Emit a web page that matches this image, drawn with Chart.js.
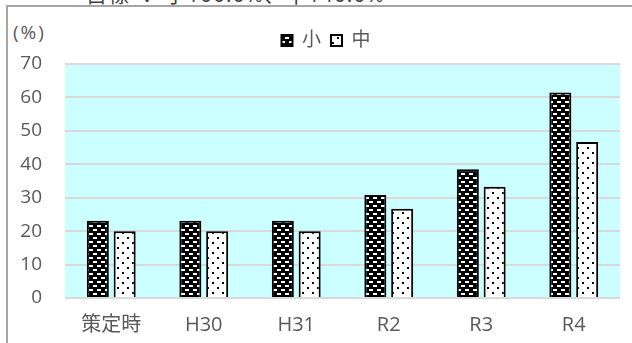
<!DOCTYPE html>
<html>
<head>
<meta charset="utf-8">
<script src="https://cdn.jsdelivr.net/npm/chart.js@4.4.1/dist/chart.umd.min.js"></script>
<style>
  body { margin: 0; background: #fff; width: 632px; height: 343px; overflow: hidden; position: relative; font-family: 'Open Sans', 'Noto Sans CJK JP', sans-serif; }
  #frame { position: absolute; left: 6px; top: 5px; width: 700px; height: 400px; border-left: 2px solid #a6a6a6; border-top: 2px solid #a6a6a6; }
  #goal { position: absolute; left: 86px; top: -16px; font-size: 21px; line-height: 21px; color: #404040; white-space: nowrap; letter-spacing: 1px; }
  #unit { position: absolute; left: 13px; top: 20px; font-size: 19px; line-height: 24px; color: #595959; letter-spacing: 2px; }
  #c { position: absolute; left: 0; top: 0; }
</style>
</head>
<body>
<div id="goal">目標 ： 小100.0%、中140.0%</div>
<div id="frame"></div>
<div id="unit">(%)</div>
<canvas id="c" width="632" height="343"></canvas>
<script>
// data
const categories = ['策定時', 'H30', 'H31', 'R2', 'R3', 'R4'];
const smallRates = [23.1, 23.1, 23.1, 30.8, 38.5, 61.5];
const middleRates = [20.0, 20.0, 20.0, 26.7, 33.3, 46.7];
const seriesNames = ['小', '中'];

// fill patterns like the office chart
function brickPattern() {
  const t = document.createElement('canvas');
  t.width = 8; t.height = 8;
  const g = t.getContext('2d');
  g.fillStyle = '#000'; g.fillRect(0, 0, 8, 8);
  g.fillStyle = '#fff';
  g.fillRect(1, 1, 4, 2);
  g.fillRect(5, 5, 3, 2);
  g.fillRect(0, 5, 1, 2);
  return g.createPattern(t, 'repeat');
}
function dotPattern() {
  const t = document.createElement('canvas');
  t.width = 10; t.height = 10;
  const g = t.getContext('2d');
  g.fillStyle = '#fff'; g.fillRect(0, 0, 10, 10);
  g.fillStyle = '#000';
  g.fillRect(2, 2, 2, 2);
  g.fillRect(7, 7, 2, 2);
  return g.createPattern(t, 'repeat');
}

const plotBg = {
  id: 'plotBg',
  afterLayout(chart) {
    // nudge legend to where the original sits
    chart.legend.left += 32;
    chart.legend.top -= 4;
  },
  beforeDraw(chart) {
    const a = chart.chartArea, ctx = chart.ctx;
    ctx.save();
    ctx.fillStyle = '#ccffff';
    ctx.fillRect(a.left, a.top, a.right - a.left, a.bottom - a.top);
    ctx.restore();
  }
};

new Chart(document.getElementById('c'), {
  type: 'bar',
  data: {
    labels: categories,
    datasets: [
      { label: seriesNames[0], data: smallRates, backgroundColor: brickPattern(), borderColor: '#000', borderWidth: 2 },
      { label: seriesNames[1], data: middleRates, backgroundColor: dotPattern(), borderColor: '#000', borderWidth: 2 }
    ]
  },
  options: {
    responsive: false,
    devicePixelRatio: 1,
    animation: false,
    layout: { padding: { left: 0, right: 12, top: 25, bottom: 0 } },
    datasets: { bar: { barPercentage: 0.82, categoryPercentage: 0.58 } },
    plugins: {
      legend: {
        position: 'top',
        labels: { boxWidth: 11, boxHeight: 11, padding: 10, color: '#595959', font: { size: 19, family: "'Open Sans', 'Noto Sans CJK JP'" } }
      },
      tooltip: { enabled: false }
    },
    scales: {
      x: {
        grid: { display: false, drawTicks: false },
        border: { display: false },
        ticks: { color: '#595959', padding: 15, font: { size: 20, family: "'Open Sans', 'Noto Sans CJK JP'" } },
        afterFit(s) { s.height = 45; }
      },
      y: {
        min: 0, max: 70,
        ticks: { stepSize: 10, color: '#595959', padding: 23, font: { size: 19, family: "'Open Sans'" } },
        grid: { color: '#d9d9d9', lineWidth: 2, drawTicks: false },
        border: { display: false },
        afterFit(s) { s.width = 65; }
      }
    }
  },
  plugins: [plotBg]
});
</script>
</body>
</html>
